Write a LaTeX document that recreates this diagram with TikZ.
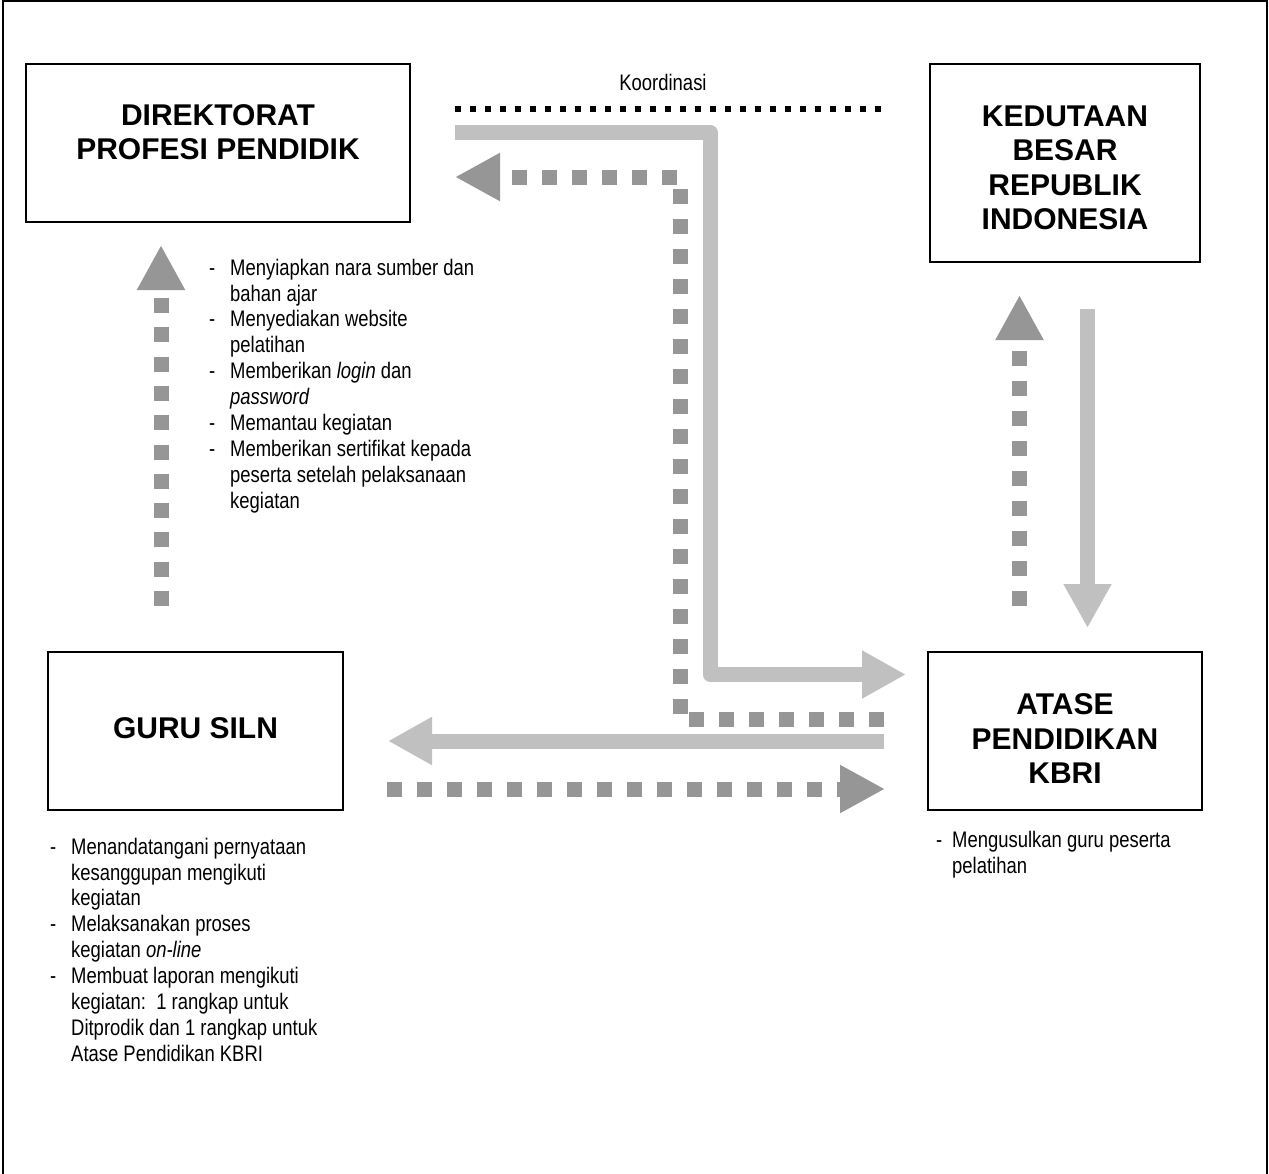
\documentclass[tikz,border=0pt]{standalone}
\usepackage{fontspec}
\setmainfont{Liberation Sans}
\newfontfamily\narrowfont[FakeStretch=0.82]{Liberation Sans}
\usetikzlibrary{arrows.meta}
\definecolor{lightbar}{HTML}{C0C0C0}
\definecolor{darkdot}{HTML}{969696}
\newcommand\li[1]{\makebox[21pt][l]{-}#1}
\newcommand\lc[1]{\hspace*{21pt}#1}
\tikzset{
  box/.style={draw=black, line width=1.6pt, inner sep=0pt},
  title/.style={inner sep=0pt, align=center, font=\bfseries\fontsize{30}{34.5}\selectfont},
  listtext/.style={inner sep=0pt, align=left, anchor=north west, font=\narrowfont\fontsize{22.5}{25.9}\selectfont},
  solidarrow/.style={draw=lightbar, line width=15pt, line join=round,
    -{Triangle[length=44pt,width=45pt]}},
  dotarrow/.style={draw=darkdot, line width=15pt, dash pattern=on 15pt off 15pt,
    -{Triangle[length=45pt,width=45pt]}},
  coord/.style={draw=black, line width=6pt, dash pattern=on 6pt off 9pt}
}
\begin{document}
\begin{tikzpicture}[x=1pt,y=-1pt]
\useasboundingbox (0,0) rectangle (1269,1173);
% outer frame (open at bottom)
\draw[line width=2pt] (3,1180) -- (3,1) -- (1267,1) -- (1267,1180);

% boxes
\node[box, minimum width=384pt, minimum height=158pt] (dir) at (218,143) {};
\node[box, minimum width=270pt, minimum height=198pt] (kbri) at (1065,163) {};
\node[box, minimum width=295pt, minimum height=158pt] (guru) at (195.5,731) {};
\node[box, minimum width=274pt, minimum height=158pt] (atase) at (1065,731) {};

% titles
\node[title] (dirT) at (218,132) {DIREKTORAT\\PROFESI PENDIDIK};
\node[title] (kbriT) at (1065,168) {KEDUTAAN\\BESAR\\REPUBLIK\\INDONESIA};
\node[title] (guruT) at (195.5,728) {GURU SILN};
\node[title] (ataseT) at (1065,739) {ATASE\\PENDIDIKAN\\KBRI};

% connector end points
\coordinate (cA) at (455,109);
\coordinate (cB) at (885,109);
\coordinate (lL1) at (455,132.5);
\coordinate (lL2) at (710,132.5);
\coordinate (lL3) at (710,674.5);
\coordinate (lL4) at (906,674.5);
\coordinate (dL1) at (884,719.5);
\coordinate (dL2) at (680,719.5);
\coordinate (dL3) at (680,177);
\coordinate (dL4) at (455,177);
\coordinate (hA1) at (884,741);
\coordinate (hA2) at (388,741);
\coordinate (hB1) at (387,789);
\coordinate (hB2) at (885,789);
\coordinate (vL1) at (161,606);
\coordinate (vL2) at (161,245);
\coordinate (vR1) at (1019.5,606);
\coordinate (vR2) at (1019.5,295);
\coordinate (vD1) at (1087.5,309);
\coordinate (vD2) at (1087.5,628);

% Koordinasi
\draw[coord] (cA) -- (cB);
\node[inner sep=0pt, anchor=base, font=\narrowfont\fontsize{22.5}{25.9}\selectfont] (koord) at (663,90) {Koordinasi};

% arrows
\draw[solidarrow] (lL1) -- (lL2) -- (lL3) -- (lL4);
\draw[dotarrow] (dL1) -- (dL2) -- (dL3) -- (dL4);
\draw[solidarrow] (hA1) -- (hA2);
\draw[dotarrow] (hB1) -- (hB2);
\draw[dotarrow, dash pattern=on 15pt off 14.3pt] (vL1) -- (vL2);
\draw[dotarrow] (vR1) -- (vR2);
\draw[solidarrow] (vD1) -- (vD2);

% lists
\node[listtext] (dirlist) at (209,258.6) {\li{Menyiapkan nara sumber dan}\\
\lc{bahan ajar}\\
\li{Menyediakan website}\\
\lc{pelatihan}\\
\li{Memberikan \textit{login} dan}\\
\lc{\textit{password}}\\
\li{Memantau kegiatan}\\
\li{Memberikan sertifikat kepada}\\
\lc{peserta setelah pelaksanaan}\\
\lc{kegiatan}};

\node[listtext] (gurulist) at (50,837.6) {\li{Menandatangani pernyataan}\\
\lc{kesanggupan mengikuti}\\
\lc{kegiatan}\\
\li{Melaksanakan proses}\\
\lc{kegiatan \textit{on-line}}\\
\li{Membuat laporan mengikuti}\\
\lc{kegiatan:\ \ 1 rangkap untuk}\\
\lc{Ditprodik dan 1 rangkap untuk}\\
\lc{Atase Pendidikan KBRI}};

\node[listtext] (ataselist) at (936,830.6) {\makebox[16pt][l]{-}Mengusulkan guru peserta\\
\hspace*{16pt}pelatihan};
\end{tikzpicture}
\end{document}
